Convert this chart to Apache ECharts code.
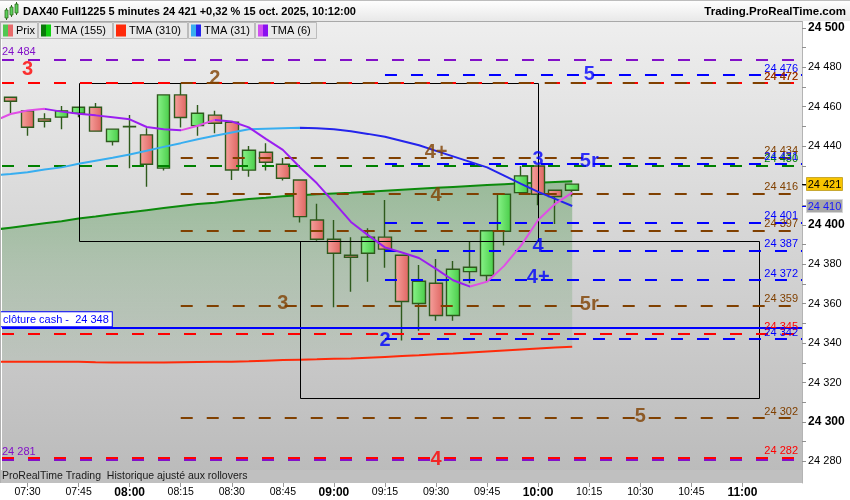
<!DOCTYPE html>
<html><head><meta charset="utf-8">
<script src="https://cdn.jsdelivr.net/npm/echarts@6/dist/echarts.min.js"></script>
<style>html,body{margin:0;padding:0;background:#fff}#c{width:850px;height:500px}</style>
</head><body><div id="c"></div>
<script>
// ---------------- DATA ----------------
const candleTimes = ['07:25','07:30','07:35','07:40','07:45','07:50','07:55','08:00','08:05','08:10','08:15','08:20','08:25','08:30','08:35','08:40','08:45','08:50','08:55','09:00','09:05','09:10','09:15','09:20','09:25','09:30','09:35','09:40','09:45','09:50','09:55','10:00','10:05','10:10'];
const openP  = [24464.8,24457.9,24453.8,24454.7,24456.7,24459.7,24442.3,24449.8,24445.7,24428.8,24466.0,24450.4,24455.7,24452.1,24427.8,24436.9,24430.8,24422.8,24402.5,24392.7,24384.6,24385.6,24393.8,24384.6,24360.1,24370.4,24354.0,24376.3,24374.3,24396.8,24416.4,24429.9,24417.6,24417.6];
const closeP = [24462.8,24449.6,24452.6,24457.9,24459.7,24447.6,24448.6,24450.0,24430.8,24466.0,24454.5,24456.7,24451.6,24427.9,24437.9,24431.8,24423.7,24404.2,24392.7,24385.6,24383.6,24393.8,24387.7,24361.1,24371.4,24354.0,24377.5,24378.5,24397.0,24415.6,24424.9,24415.6,24414.4,24420.7];
const lowP   = [24456.7,24445.3,24449.4,24448.6,24454.7,24447.3,24440.3,24428.8,24419.4,24427.6,24449.4,24445.3,24446.5,24422.8,24424.5,24427.6,24422.5,24401.2,24392.0,24358.2,24366.1,24371.2,24378.3,24341.3,24346.3,24351.4,24351.4,24370.4,24371.2,24389.5,24416.2,24410.0,24400.5,24414.4];
const highP  = [24465.0,24458.2,24456.7,24460.3,24460.0,24461.9,24448.8,24455.8,24449.1,24466.2,24471.9,24460.9,24457.9,24452.4,24440.1,24441.5,24433.9,24423.1,24410.7,24402.5,24393.8,24398.3,24412.7,24384.9,24379.7,24382.7,24381.7,24391.5,24397.2,24415.8,24429.9,24430.2,24418.0,24421.0];

const tmaTimes = ['07:20','07:25','07:30','07:35','07:40','07:45','07:50','07:55','08:00','08:05','08:10','08:15','08:20','08:25','08:30','08:35','08:40','08:45','08:50','08:55','09:00','09:05','09:10','09:15','09:20','09:25','09:30','09:35','09:40','09:45','09:50','09:55','10:00','10:05','10:10'];
const tma155 = [24397.5,24398.6,24399.7,24400.8,24401.9,24403.3,24404.3,24405.4,24406.4,24407.5,24408.6,24409.6,24410.6,24411.3,24412.3,24413.2,24413.8,24414.5,24415.1,24415.5,24415.9,24416.3,24416.8,24417.3,24417.8,24418.3,24418.8,24419.3,24419.8,24420.3,24420.7,24421.1,24421.4,24421.8,24422.2];
const tma310 = [24330.6,24330.5,24330.5,24330.5,24330.5,24330.5,24330.3,24330.2,24330.1,24330.1,24330.2,24330.3,24330.4,24330.5,24330.6,24330.8,24331.1,24331.4,24331.6,24331.8,24332.1,24332.2,24332.6,24333.0,24333.4,24333.8,24334.3,24334.7,24335.3,24335.8,24336.3,24336.8,24337.3,24337.8,24338.2];
const tma31  = [24425.1,24425.8,24426.7,24428.1,24429.2,24431.0,24432.6,24434.1,24435.7,24437.6,24439.6,24441.5,24443.5,24445.3,24446.9,24448.5,24448.8,24449.1,24449.3,24449.1,24448.5,24447.5,24446.2,24444.7,24442.6,24440.4,24437.6,24434.8,24432.0,24429.2,24425.0,24420.8,24416.8,24413.2,24409.6];
const tma6   = [24452.5,24456.3,24458.1,24458.9,24457.5,24456.4,24455.6,24454.6,24453.6,24449.7,24448.5,24448.0,24450.3,24453.3,24452.5,24449.5,24443.7,24438.1,24429.3,24421.1,24411.4,24401.5,24394.8,24388.6,24386.0,24383.2,24377.7,24371.9,24368.7,24371.2,24379.2,24389.6,24402.5,24410.7,24416.4];

const xTickLabels = ['07:30','07:45','08:00','08:15','08:30','08:45','09:00','09:15','09:30','09:45','10:00','10:15','10:30','10:45','11:00'];
const yTickLabels = [24280,24300,24320,24340,24360,24380,24400,24420,24440,24460,24480,24500];
const yMinorTicks = [24280,24290,24300,24310,24320,24330,24340,24350,24360,24370,24380,24390,24400,24410,24420,24430,24440,24450,24460,24470,24480,24490,24500];

const purpleLevels = [24484, 24281];
const greenLevels  = [24430];
const redLevels    = [24472, 24345, 24282];
const brownLevels  = [24472, 24434, 24416, 24397, 24359, 24302];
const blueLevels   = [24476, 24431, 24401, 24387, 24372, 24342];
const brownFrom = '08:15';
const blueFrom  = '09:15';
const cashClose = 24348;

const boxes = [['07:45','10:00',24472,24392],['08:50','11:05',24392,24312]];

const redTags   = [['3','07:30',24479],['4','09:30',24281]];
const brownTags = [['2','08:25',24474.5],['4+','09:30',24437],['4','09:30',24415],['3','08:45',24360],['5r','10:15',24359.5],['5','10:30',24303]];
const blueTags  = [['5','10:15',24476.5],['3','10:00',24433],['5r','10:15',24432],['4','10:00',24389],['4+','10:00',24373.5],['2','09:15',24341.5]];

// ---------------- HELPERS ----------------
const FONT = "'Liberation Sans', Arial, Helvetica, sans-serif";
const toMin = s => { const p = s.split(':'); return (+p[0]) * 60 + (+p[1]); };
const fmtMin = v => { const h = Math.floor(v / 60), m = Math.round(v % 60); return String(h).padStart(2,'0') + ':' + String(m).padStart(2,'0'); };
const fmtP = v => { const r = Math.round(v); return Math.floor(r / 1000) + ' ' + String(r % 1000).padStart(3, '0'); };
const LG = echarts.graphic.LinearGradient;
const X_MIN = 442.5, X_MAX = 677.5;
const C = { purple:'#8210c8', green:'#008000', red:'#ff0000', brown:'#804000', blue:'#0000ff' };

function slopePieces(vals, up, down) {
  const xs = tmaTimes.map(toMin);
  const pieces = [];
  let start = 0, dir = vals[1] >= vals[0];
  for (let i = 1; i < vals.length - 1; i++) {
    const d = vals[i + 1] >= vals[i];
    if (d !== dir) {
      pieces.push({ gte: start, lt: xs[i], color: dir ? up : down });
      start = xs[i]; dir = d;
    }
  }
  pieces.push({ gte: start, lte: 2000, color: dir ? up : down });
  return pieces;
}

const pairs = arr => tmaTimes.map((t, i) => [toMin(t), arr[i]]);

// level lines as markLine data
const mlData = [];
function addLevel(v, from, color, label, opt) {
  opt = opt || {};
  mlData.push([
    { coord: [from, v],
      lineStyle: { color: color, width: 2, type: opt.solid ? 'solid' : [12, 14] },
      label: label },
    { coord: [X_MAX, v] }
  ]);
}
const rightLabel = (v, color) => ({ show: true, position: 'insideEndTop', formatter: fmtP(v), color: color, fontSize: 11, fontFamily: FONT, distance: [4, 1] });
const leftLabel = (v, color) => ({ show: true, position: 'insideStartTop', formatter: fmtP(v), color: color, fontSize: 11, fontFamily: FONT, distance: [0, 2] });

purpleLevels.forEach(v => addLevel(v, X_MIN, C.purple, leftLabel(v, C.purple)));
greenLevels.forEach(v => addLevel(v, X_MIN, C.green, rightLabel(v, C.green)));
redLevels.forEach(v => addLevel(v, X_MIN, C.red, rightLabel(v, C.red)));
brownLevels.forEach(v => addLevel(v, toMin(brownFrom), C.brown, rightLabel(v, C.brown)));
blueLevels.forEach(v => addLevel(v, toMin(blueFrom), C.blue, rightLabel(v, C.blue)));
addLevel(cashClose, X_MIN, C.blue, {
  show: true, position: 'insideStartTop', formatter: 'clôture cash -  ' + fmtP(cashClose),
  color: C.blue, fontSize: 11, fontFamily: FONT, backgroundColor: '#fff',
  borderColor: C.blue, borderWidth: 1, padding: [2, 3, 1, 2], distance: [-1, 1]
}, { solid: true });

const tagData = [];
[[redTags, C.red], [brownTags, C.brown], [blueTags, C.blue]].forEach(([arr, col]) => {
  arr.forEach(t => tagData.push({ value: [toMin(t[1]), t[2]], name: t[0], label: { color: col } }));
});

const upFill = new LG(0, 0, 1, 0, [{ offset: 0, color: '#8af48a' }, { offset: 1, color: '#48cc48' }]);
const downFill = new LG(0, 0, 1, 0, [{ offset: 0, color: '#f7a29e' }, { offset: 1, color: '#de6460' }]);

const option = {
  animation: false,
  grid: { left: 2, right: 48, top: 21, bottom: 17, show: true, borderWidth: 0,
    backgroundColor: new LG(0, 0, 0, 1, [{ offset: 0, color: '#eeeeee' }, { offset: 1, color: '#bababa' }]) },
  xAxis: {
    type: 'value', min: X_MIN, max: X_MAX,
    axisLine: { show: false }, splitLine: { show: false },
    axisTick: { show: true, customValues: xTickLabels.map(toMin), length: 4, lineStyle: { color: '#999' } },
    axisLabel: {
      customValues: xTickLabels.map(toMin), margin: 4, color: '#000', fontSize: 10.5, fontFamily: FONT,
      formatter: v => (Math.round(v) % 60 === 0 ? '{b|' + fmtMin(v) + '}' : fmtMin(v)),
      rich: { b: { fontWeight: 'bold', fontSize: 12, fontFamily: FONT, color: '#000' } }
    }
  },
  yAxis: {
    type: 'value', position: 'right', min: 24269, max: 24503.5,
    axisLine: { show: true, lineStyle: { color: '#b4b4b4' } },
    splitLine: { show: false },
    axisTick: { show: true, customValues: yMinorTicks, length: 4, lineStyle: { color: '#909090' } },
    axisLabel: {
      customValues: yTickLabels, margin: 6, color: '#000', fontSize: 11, fontFamily: FONT,
      formatter: v => (v % 100 === 0 ? '{b|' + fmtP(v) + '}' : fmtP(v)),
      rich: { b: { fontWeight: 'bold', fontSize: 12, fontFamily: FONT, color: '#000' } }
    }
  },
  visualMap: [
    { type: 'piecewise', show: false, seriesIndex: 6, dimension: 0, pieces: slopePieces(tma31, '#38aef0', '#2424ec') },
    { type: 'piecewise', show: false, seriesIndex: 7, dimension: 0, pieces: slopePieces(tma6, '#e04ee6', '#9a1ef0') }
  ],
  series: [
    { // 0 band between TMA155 and TMA310
      type: 'custom', z: 1, silent: true, clip: true,
      data: [[toMin(tmaTimes[0]), tma155[0]]],
      renderItem: (params, api) => {
        const pts = [];
        tmaTimes.forEach((t, i) => pts.push(api.coord([toMin(t), tma155[i]])));
        for (let i = tmaTimes.length - 1; i >= 0; i--) pts.push(api.coord([toMin(tmaTimes[i]), tma310[i]]));
        return { type: 'polygon', shape: { points: pts },
          style: { fill: new LG(0, 0, 0, 1, [{ offset: 0, color: 'rgba(0,110,0,0.30)' }, { offset: 0.5, color: 'rgba(0,110,0,0.16)' }, { offset: 1, color: 'rgba(0,110,0,0.05)' }]) } };
      }
    },
    { // 1 TMA310
      type: 'line', name: 'TMA (310)', data: pairs(tma310), symbol: 'none', z: 2, clip: true,
      lineStyle: { color: '#ff2a0a', width: 2 }
    },
    { // 2 TMA155
      type: 'line', name: 'TMA (155)', data: pairs(tma155), symbol: 'none', z: 2, clip: true,
      lineStyle: { color: '#0c8a0c', width: 2 }
    },
    { // 3 candles
      type: 'candlestick', name: 'Prix', z: 3, barWidth: 13,
      data: candleTimes.map((t, i) => [toMin(t), openP[i], closeP[i], lowP[i], highP[i]]),
      itemStyle: { color: upFill, color0: downFill, borderColor: '#2e5a1c', borderColor0: '#2e5a1c', borderWidth: 1.4 }
    },
    { // 4 rectangles
      type: 'custom', z: 4, silent: true, clip: true,
      data: boxes.map(b => [toMin(b[0]), toMin(b[1]), b[2], b[3]]),
      encode: { x: [0, 1], y: [2, 3] },
      renderItem: (params, api) => {
        const p1 = api.coord([api.value(0), api.value(2)]);
        const p2 = api.coord([api.value(1), api.value(3)]);
        const x1 = Math.round(p1[0]) + 0.5, y1 = Math.round(p1[1]) + 0.5;
        const x2 = Math.round(p2[0]) + 0.5, y2 = Math.round(p2[1]) + 0.5;
        return { type: 'rect', shape: { x: x1, y: y1, width: x2 - x1, height: y2 - y1 },
          style: { fill: 'none', stroke: '#000', lineWidth: 1 } };
      }
    },
    { // 5 level lines
      type: 'line', data: [], z: 5, silent: true,
      markLine: { silent: true, symbol: ['none', 'none'], animation: false, data: mlData }
    },
    { // 6 TMA31
      type: 'line', name: 'TMA (31)', data: pairs(tma31), symbol: 'none', z: 6, clip: true,
      lineStyle: { width: 2 }
    },
    { // 7 TMA6
      type: 'line', name: 'TMA (6)', data: pairs(tma6), symbol: 'none', z: 6, clip: true,
      lineStyle: { width: 2 }
    },
    { // 8 tags
      type: 'scatter', z: 7, silent: true, symbolSize: 1, itemStyle: { color: 'rgba(0,0,0,0)' },
      data: tagData,
      label: { show: true, position: 'inside', formatter: p => p.name, fontSize: 20, fontFamily: FONT, fontWeight: 'bold' }
    }
  ]
};

const chart = echarts.init(document.getElementById('c'), null, { renderer: 'canvas', width: 850, height: 500 });
chart.setOption(option);

// ---------------- FRAME / TEXT GRAPHICS ----------------
const g = [];
g.push({ type: 'rect', z: 100, shape: { x: 0, y: 0, width: 850, height: 21 }, style: { fill: new LG(0, 0, 0, 1, [{ offset: 0, color: '#ffffff' }, { offset: 1, color: '#e8e8e8' }]) } });
g.push({ type: 'line', z: 101, shape: { x1: 0, y1: 0.5, x2: 850, y2: 0.5 }, style: { stroke: '#bdbdbd', lineWidth: 1 } });
g.push({ type: 'line', z: 101, shape: { x1: 0, y1: 21.5, x2: 802, y2: 21.5 }, style: { stroke: '#a8a8a8', lineWidth: 1 } });
g.push({ type: 'line', z: 101, shape: { x1: 0.5, y1: 21, x2: 0.5, y2: 483 }, style: { stroke: '#b0b0b0', lineWidth: 1 } });
// icon
[[5, 10, 8], [10, 7, 8], [15, 4, 9]].forEach(r => {
  g.push({ type: 'line', z: 101, shape: { x1: r[0] + 1.5, y1: r[1] - 2, x2: r[0] + 1.5, y2: r[1] + r[2] + 2 }, style: { stroke: '#2e6a1c', lineWidth: 1 } });
  g.push({ type: 'rect', z: 102, shape: { x: r[0], y: r[1], width: 3, height: r[2] }, style: { fill: '#5ad05a', stroke: '#2e6a1c', lineWidth: 0.8 } });
});
g.push({ type: 'text', z: 101, x: 23, y: 12, style: { text: 'DAX40 Full1225 5 minutes 24 421 +0,32 % 15 oct. 2025, 10:12:00', fontFamily: FONT, fontSize: 11, fontWeight: 'bold', fill: '#000', verticalAlign: 'middle' } });
g.push({ type: 'text', z: 101, x: 846, y: 12, style: { text: 'Trading.ProRealTime.com', fontFamily: FONT, fontSize: 11.5, fontWeight: 'bold', fill: '#000', align: 'right', verticalAlign: 'middle' } });
// legend tabs
const tabs = [
  ['Prix', 0, 37, '#50c850', '#e86a6a'],
  ['TMA (155)', 38, 112, '#0a7a0a', '#10d010'],
  ['TMA (310)', 113, 187, '#ff2a0a', '#ff2a0a'],
  ['TMA (31)', 188, 254, '#38aef0', '#2424ec'],
  ['TMA (6)', 255, 316, '#d050f0', '#8a10f0']
];
tabs.forEach(t => {
  g.push({ type: 'rect', z: 100, shape: { x: t[1] + 0.5, y: 22.5, width: t[2] - t[1], height: 16 }, style: { fill: '#e9e9e9', stroke: '#bcbcbc', lineWidth: 1 } });
  g.push({ type: 'rect', z: 101, shape: { x: t[1] + 3, y: 24.5, width: 5, height: 12 }, style: { fill: t[3] } });
  g.push({ type: 'rect', z: 101, shape: { x: t[1] + 8, y: 24.5, width: 5, height: 12 }, style: { fill: t[4] } });
  g.push({ type: 'text', z: 101, x: t[1] + 16, y: 31, style: { text: t[0], fontFamily: FONT, fontSize: 11, fill: '#000', verticalAlign: 'middle' } });
});
// bottom bar
g.push({ type: 'rect', z: 100, shape: { x: 0, y: 470, width: 802, height: 13 }, style: { fill: '#c0c0c0' } });
g.push({ type: 'text', z: 101, x: 2, y: 476.5, style: { text: 'ProRealTime Trading  Historique ajusté aux rollovers', fontFamily: FONT, fontSize: 10.5, fill: '#1a1a1a', verticalAlign: 'middle' } });

// price boxes on the right axis
function priceBox(v, fill, stroke, txt, tickCol) {
  const y = chart.convertToPixel({ yAxisIndex: 0 }, v);
  g.push({ type: 'line', z: 101, shape: { x1: 802, y1: Math.round(y) + 0.5, x2: 807, y2: Math.round(y) + 0.5 }, style: { stroke: tickCol, lineWidth: 1 } });
  g.push({ type: 'rect', z: 101, shape: { x: 806.5, y: Math.round(y) - 6.5, width: 36, height: 13 }, style: { fill: fill, stroke: stroke, lineWidth: 1 } });
  g.push({ type: 'text', z: 102, x: 824.5, y: Math.round(y) + 0.5, style: { text: fmtP(v), fontFamily: FONT, fontSize: 11, fill: txt, align: 'center', verticalAlign: 'middle' } });
}
priceBox(tma31[tma31.length - 1], '#a8a8a8', '#d4d4d4', '#1818ff', '#0000ff');
priceBox(closeP[closeP.length - 1], '#f8c400', '#c8a830', '#000', '#000');

chart.setOption({ graphic: { elements: g } });
</script>
</body></html>
